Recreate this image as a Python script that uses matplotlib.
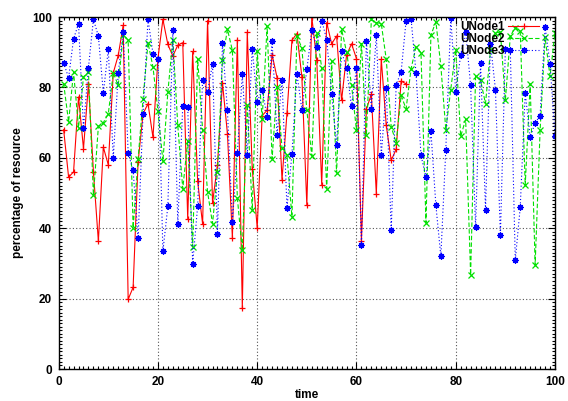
import numpy as np
import matplotlib
matplotlib.use("Agg")
import matplotlib.pyplot as plt
from matplotlib.ticker import MultipleLocator

# time stamps
t_node1 = list(range(1, 71))
t_node23 = list(range(1, 101))

# UNode1 (stops at t=70)
unode1 = [68.0, 54.5, 56.0, 77.3, 62.6, 81.0, 56.0, 36.3, 63.0, 58.0,
          84.1, 89.1, 97.6, 19.8, 23.2, 58.8, 72.5, 75.4, 65.8, 88.2,
          99.3, 92.2, 88.9, 92.0, 92.7, 42.7, 90.2, 53.3, 41.2, 99.0,
          47.2, 58.0, 81.3, 66.9, 37.2, 93.6, 17.3, 95.7, 56.9, 40.1,
          72.0, 73.5, 89.3, 82.8, 53.8, 72.7, 93.4, 95.3, 83.0, 46.5,
          100.0, 87.7, 52.4, 98.4, 92.4, 94.6, 76.3, 89.1, 92.4, 88.2,
          36.5, 73.9, 78.0, 49.8, 88.0, 69.2, 59.3, 62.4, 81.8, 81.0]

unode2 = [81.1, 70.2, 84.4, 68.6, 83.0, 84.4, 49.3, 68.9, 70.0, 72.5,
          84.1, 80.6, 95.0, 93.4, 40.1, 59.7, 76.6, 92.7, 85.8, 73.3,
          59.0, 78.7, 93.6, 69.2, 51.2, 64.7, 34.7, 88.0, 68.0, 50.3,
          41.3, 56.0, 87.7, 96.5, 90.5, 48.6, 33.7, 75.1, 45.1, 90.2,
          71.1, 97.4, 59.7, 80.1, 62.8, 60.7, 43.2, 94.6, 91.2, 73.5,
          60.5, 95.5, 85.5, 51.2, 87.4, 55.7, 96.5, 90.1, 80.8, 67.8,
          92.4, 66.4, 99.3, 98.4, 98.1, 88.0, 68.8, 64.3, 77.7, 73.9,
          85.3, 91.5, 89.9, 41.6, 94.8, 98.7, 86.1, 68.0, 79.4, 90.7,
          66.1, 70.9, 26.8, 83.2, 82.0, 75.4, 90.5, 95.5, 95.7, 76.3,
          94.6, 97.0, 95.9, 52.2, 81.0, 29.6, 67.8, 94.2, 83.2, 95.5]

unode3 = [87.0, 82.7, 93.8, 98.1, 68.5, 85.6, 99.3, 94.6, 78.4, 90.8,
          59.9, 84.1, 95.7, 61.4, 56.4, 37.2, 72.5, 99.3, 89.6, 88.0,
          33.4, 46.3, 96.2, 41.3, 74.6, 74.4, 29.9, 46.3, 82.2, 78.7,
          86.7, 38.4, 92.7, 73.5, 41.9, 61.4, 83.7, 60.9, 91.0, 75.9,
          79.4, 71.6, 93.3, 66.4, 82.2, 45.8, 61.2, 83.9, 73.7, 85.1,
          96.2, 91.5, 99.0, 93.6, 78.2, 63.5, 90.2, 85.5, 74.6, 85.6,
          35.1, 93.3, 73.9, 95.0, 60.7, 79.8, 39.4, 80.8, 84.4, 99.0,
          99.5, 84.1, 60.7, 54.5, 67.6, 46.5, 32.0, 62.3, 99.8, 78.7,
          89.2, 95.8, 80.6, 40.3, 87.0, 45.3, 92.4, 79.4, 38.0, 90.8,
          90.5, 30.9, 46.0, 78.4, 65.9, 69.9, 72.0, 97.2, 86.7, 66.2]

plt.rcParams['font.family'] = ['Liberation Sans', 'DejaVu Sans']
plt.rcParams['font.weight'] = 'bold'

fig = plt.figure(figsize=(5.68, 4.01), dpi=100)
ax = fig.add_axes([0.1033, 0.0798, 0.9771 - 0.1033, 0.9576 - 0.0798])

asterisk = (8, 2, 0)
ax.plot(t_node1, unode1, color='#ff0000', lw=0.8, ls='-', marker='+', ms=4.5, mew=0.9, label='UNode1')
ax.plot(t_node23, unode2, color='#00e000', lw=0.8, ls=(0, (4, 2)), marker='x', ms=3.8, mew=0.9, label='UNode2')
ax.plot(t_node23, unode3, color='#0000ff', lw=0.8, ls=(0, (1, 2)), marker=asterisk, ms=4.5, mew=0.9, label='UNode3')

ax.set_xlim(0, 100)
ax.set_ylim(0, 100)
ax.xaxis.set_major_locator(MultipleLocator(20))
ax.yaxis.set_major_locator(MultipleLocator(20))
ax.xaxis.set_minor_locator(MultipleLocator(1))
ax.yaxis.set_minor_locator(MultipleLocator(1))
ax.tick_params(which='both', direction='in', top=True, right=True, labelsize=8.5, width=0.8)
ax.tick_params(which='major', length=5, pad=5)
ax.tick_params(which='minor', length=2)
for s in ax.spines.values():
    s.set_linewidth(1.0)

# gnuplot-style dotted grid (inner lines only)
for v in [20, 40, 60, 80]:
    ax.axvline(v, color='#555555', lw=0.8, ls=(0, (1, 2)), zorder=0)
    ax.axhline(v, color='#555555', lw=0.8, ls=(0, (1, 2)), zorder=0)

ax.set_xlabel('time', fontsize=8.5, fontweight='bold', labelpad=1)
ax.set_ylabel('percentage of resource', fontsize=8.5, fontweight='bold', labelpad=6)

leg = ax.legend(loc='upper right', bbox_to_anchor=(0.982, 1.008), frameon=False, markerfirst=False,
                numpoints=1, handlelength=2.6, handletextpad=0.3, labelspacing=0.0,
                borderaxespad=0.2, prop={'weight': 'bold', 'size': 8.5})

fig.savefig('out.png', dpi=100)
